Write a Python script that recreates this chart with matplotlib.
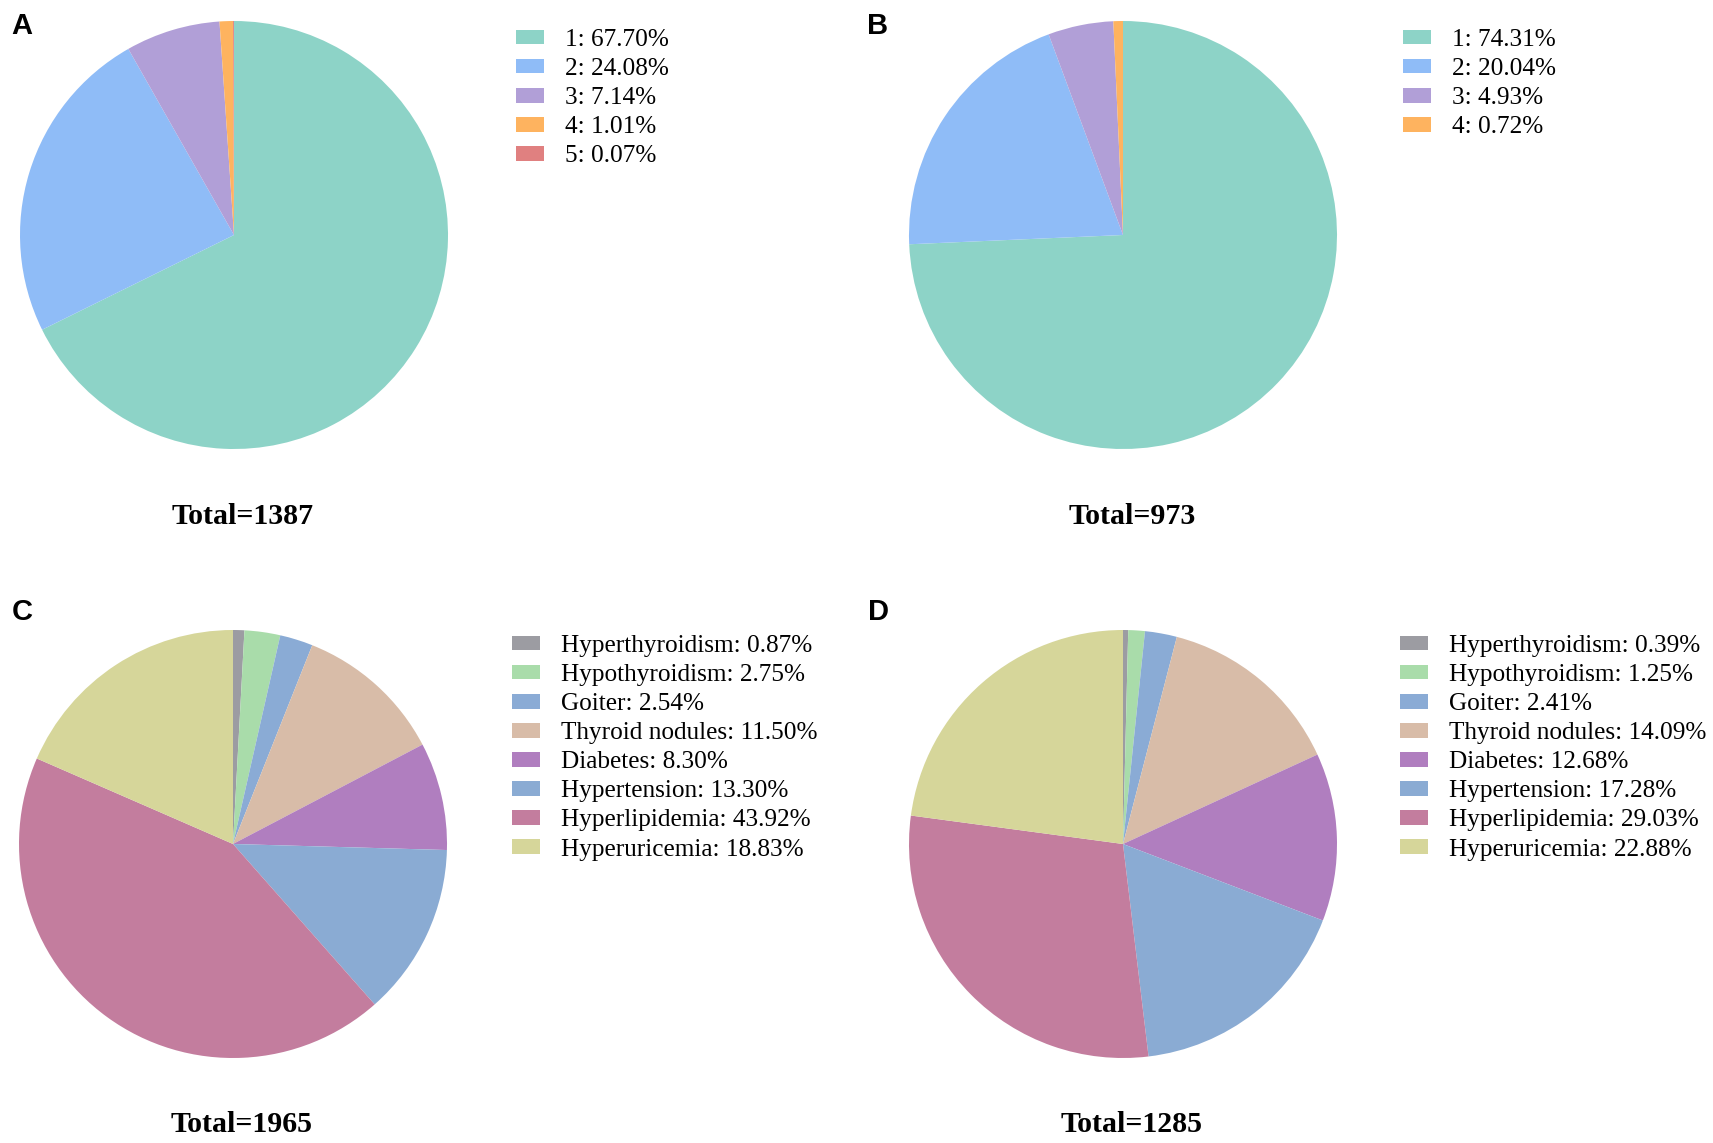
import numpy as np
import matplotlib
matplotlib.use("Agg")
import matplotlib.pyplot as plt

W, H = 1713, 1143

# panel A / B: number of ... per person
levels_a = ["1", "2", "3", "4", "5"]
pct_a = [67.70, 24.08, 7.14, 1.01, 0.07]
levels_b = ["1", "2", "3", "4"]
pct_b = [74.31, 20.04, 4.93, 0.72]
colors_ab = ["#8dd3c7", "#8fbcf7", "#b19fd7", "#feb35f", "#e08080"]

# panel C / D: diseases
diseases = ["Hyperthyroidism", "Hypothyroidism", "Goiter", "Thyroid nodules",
            "Diabetes", "Hypertension", "Hyperlipidemia", "Hyperuricemia"]
pct_c = [0.87, 2.75, 2.54, 11.50, 8.30, 13.30, 43.92, 18.83]
pct_d = [0.39, 1.25, 2.41, 14.09, 12.68, 17.28, 29.03, 22.88]
colors_cd = ["#9c9ca2", "#a9dcaa", "#8aabd5", "#d8bca8", "#b07ebf",
             "#8aabd3", "#c37d9e", "#d6d69a"]

totals = [1387, 973, 1965, 1285]
letters = ["A", "B", "C", "D"]

# layout in pixels (x, y from top)
centers = [(234, 235), (1123, 235), (233, 844), (1123, 844)]
radius = 214
legend_pos = [(516, 29), (1403, 29), (512, 635), (1400, 635)]
total_y = [517, 517, 1125, 1125]
letter_pos = [(22, 26), (878, 26), (22, 612), (878, 612)]

serif = ["Liberation Serif", "DejaVu Serif"]

fig = plt.figure(figsize=(W / 100, H / 100), dpi=100)

panels = [
    (pct_a, [f"{l}: {p:.2f}%" for l, p in zip(levels_a, pct_a)], colors_ab[:5]),
    (pct_b, [f"{l}: {p:.2f}%" for l, p in zip(levels_b, pct_b)], colors_ab[:4]),
    (pct_c, [f"{d}: {p:.2f}%" for d, p in zip(diseases, pct_c)], colors_cd),
    (pct_d, [f"{d}: {p:.2f}%" for d, p in zip(diseases, pct_d)], colors_cd),
]

for i, (vals, labels, cols) in enumerate(panels):
    cx, cy = centers[i]
    ax = fig.add_axes([(cx - radius) / W, 1 - (cy + radius) / H,
                       2 * radius / W, 2 * radius / H])
    wedges, _ = ax.pie(vals, colors=cols, startangle=90, counterclock=False,
                       radius=1, wedgeprops=dict(linewidth=0))
    ax.set_xlim(-1, 1)
    ax.set_ylim(-1, 1)

    lx, ly = legend_pos[i]
    fig.legend(wedges, labels, loc="upper left",
               bbox_to_anchor=(lx / W, 1 - ly / H), frameon=False,
               prop=dict(family=serif, size=18.2), borderpad=0, borderaxespad=0,
               handlelength=1.12, handleheight=0.52, handletextpad=0.8,
               labelspacing=0.28)

    fig.text(cx / W + 9 / W, 1 - total_y[i] / H, f"Total={totals[i]}",
             ha="center", va="center", family=serif, fontsize=21.5,
             fontweight="bold")

    px, py = letter_pos[i]
    fig.text(px / W, 1 - py / H, letters[i], ha="center", va="center",
             family=["Liberation Sans", "DejaVu Sans"], fontsize=21,
             fontweight="bold")

fig.savefig("out.png", dpi=100)
